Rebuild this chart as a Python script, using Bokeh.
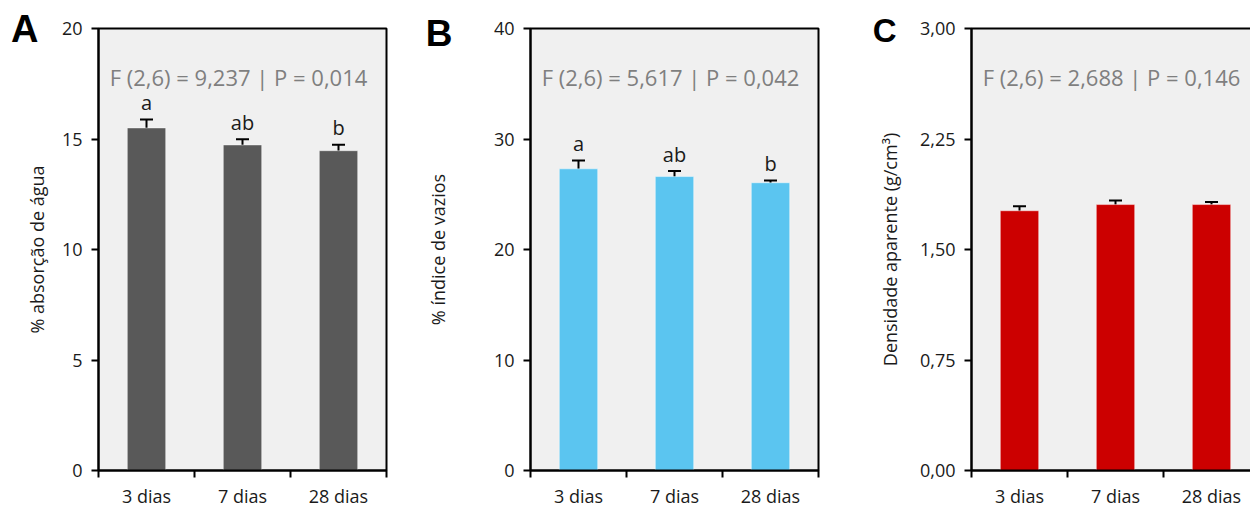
from bokeh.plotting import figure
from bokeh.layouts import row
from bokeh.models import (ColumnDataSource, Whisker, TeeHead, Label, Range1d,
                          FixedTicker, LinearAxis)
from bokeh.core.properties import value
from bokeh.embed import file_html
from bokeh.resources import INLINE

# ---------------- data ----------------
categories = ["3 dias", "7 dias", "28 dias"]

absorcao_mean = [15.50, 14.73, 14.47]
absorcao_err = [0.38, 0.26, 0.27]
absorcao_letters = ["a", "ab", "b"]
absorcao_ticks = [0, 5, 10, 15, 20]
absorcao_tick_labels = ["0", "5", "10", "15", "20"]
absorcao_stat = "F (2,6) = 9,237 | P = 0,014"

vazios_mean = [27.30, 26.60, 26.04]
vazios_err = [0.75, 0.50, 0.21]
vazios_letters = ["a", "ab", "b"]
vazios_ticks = [0, 10, 20, 30, 40]
vazios_tick_labels = ["0", "10", "20", "30", "40"]
vazios_stat = "F (2,6) = 5,617 | P = 0,042"

densidade_mean = [1.763, 1.805, 1.805]
densidade_err = [0.030, 0.028, 0.017]
densidade_letters = ["", "", ""]
densidade_ticks = [0, 0.75, 1.5, 2.25, 3.0]
densidade_tick_labels = ["0,00", "0,75", "1,50", "2,25", "3,00"]
densidade_stat = "F (2,6) = 2,688 | P = 0,146"

FONT = "Open Sans"
BG = "#f0f0f0"
FRAME_H = 442


def panel(mean, err, letters, ticks, tick_labels, stat, ylabel, color,
          label_standoff, panel_letter, letter_drop, letter_standoff,
          letter_size, border_left, border_right, frame_w, x_end):
    n = len(categories)
    xs = [i + 0.5 for i in range(n)]
    src = ColumnDataSource(dict(
        x=xs, top=mean,
        upper=[m + e for m, e in zip(mean, err)],
        lower=[m - e for m, e in zip(mean, err)],
        letter=letters,
    ))
    p = figure(frame_width=frame_w, frame_height=FRAME_H,
               min_border_left=border_left, min_border_right=border_right,
               min_border_top=28, min_border_bottom=38,
               x_range=Range1d(0, x_end),
               y_range=Range1d(ticks[0], ticks[-1]),
               output_backend="svg", toolbar_location=None)
    p.background_fill_color = BG
    p.border_fill_color = "white"
    p.outline_line_color = "black"
    p.outline_line_width = 2
    p.grid.visible = False

    p.vbar(x="x", top="top", width=0.4, bottom=0, source=src,
           fill_color=color, line_color="white", line_alpha=0.45, line_width=1)
    wh = Whisker(source=src, base="x", upper="upper", lower="lower",
                 dimension="height", line_color="black", line_width=2,
                 upper_head=TeeHead(size=13, line_width=2, line_color="black"),
                 lower_head=TeeHead(size=13, line_width=2, line_color="black"))
    p.add_layout(wh)
    p.text(x="x", y="upper", text="letter", source=src, y_offset=-17,
           text_align="center", text_baseline="alphabetic",
           text_font=value(FONT), text_font_size="20px", text_color="#1a1a1a")

    # x axis
    xa = p.xaxis[0]
    xa.ticker = FixedTicker(ticks=xs, minor_ticks=list(range(n + 1)))
    xa.major_label_overrides = {x: c for x, c in zip(xs, categories)}
    xa.major_tick_line_color = None
    xa.minor_tick_line_color = "black"
    xa.minor_tick_line_width = 2
    xa.minor_tick_out = 7
    xa.minor_tick_in = 0
    xa.major_label_standoff = 6
    xa.axis_line_width = 2
    xa.axis_line_color = "black"
    xa.major_label_text_font = FONT
    xa.major_label_text_font_size = "18px"
    xa.major_label_text_color = "#1a1a1a"

    # y axis
    ya = p.yaxis[0]
    ya.ticker = FixedTicker(ticks=ticks, minor_ticks=[])
    ya.major_label_overrides = {t: l for t, l in zip(ticks, tick_labels)}
    ya.major_tick_line_width = 2
    ya.major_tick_out = 7
    ya.major_tick_in = 0
    ya.major_label_standoff = 9
    ya.axis_line_width = 2
    ya.major_label_text_font = FONT
    ya.major_label_text_font_size = "18px"
    ya.major_label_text_color = "#1a1a1a"
    ya.axis_label = ylabel
    ya.axis_label_text_font = FONT
    ya.axis_label_text_font_style = "normal"
    ya.axis_label_text_font_size = "18px"
    ya.axis_label_text_color = "#1a1a1a"
    ya.axis_label_standoff = label_standoff

    # panel letter, drawn as the single label of an extra, line-less left axis
    span = ticks[-1] - ticks[0]
    ly = ticks[-1] - letter_drop / FRAME_H * span
    la = LinearAxis(ticker=FixedTicker(ticks=[ly], minor_ticks=[]),
                    major_label_overrides={ly: panel_letter},
                    axis_line_color=None, major_tick_line_color=None,
                    minor_tick_line_color=None, major_tick_out=0,
                    major_tick_in=0, minor_tick_out=0, minor_tick_in=0,
                    major_label_standoff=letter_standoff,
                    major_label_text_font="Liberation Sans",
                    major_label_text_font_style="bold",
                    major_label_text_font_size=letter_size,
                    major_label_text_color="black")
    p.add_layout(la, "left")

    p.add_layout(Label(x=140, y=FRAME_H - 48, x_units="screen", y_units="screen",
                       text=stat, text_align="center", text_baseline="alphabetic",
                       text_font=FONT, text_font_size="22px", text_color="#7f7f7f"))
    return p


pA = panel(absorcao_mean, absorcao_err, absorcao_letters, absorcao_ticks,
           absorcao_tick_labels, absorcao_stat, "% absorção de água", "#595959",
           10, "A", 0, -17, "38px", 98, 28, 288, 3.0)
pB = panel(vazios_mean, vazios_err, vazios_letters, vazios_ticks,
           vazios_tick_labels, vazios_stat, "% índice de vazios", "#5bc5f0",
           41, "B", 5, -30, "37px", 116, 51, 288, 3.0)
pC = panel(densidade_mean, densidade_err, densidade_letters, densidade_ticks,
           densidade_tick_labels, densidade_stat, "Densidade aparente (g/cm³)",
           "#cc0000", 15, "C", 2, -22, "33px", 100, 0, 281, 281 / 96)

layout = row(pA, pB, pC, spacing=0)
open("out.html", "w").write(file_html(layout, INLINE))
